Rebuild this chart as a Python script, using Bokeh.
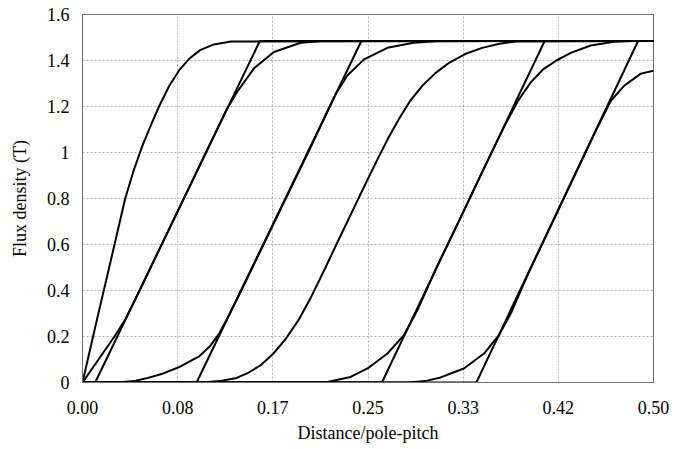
from bokeh.plotting import figure
from bokeh.models import Range1d, FixedTicker
from bokeh.embed import file_html
from bokeh.resources import INLINE

# Axis ticks and labels
x_ticks = [0.0, 0.0833333, 0.1666667, 0.25, 0.3333333, 0.4166667, 0.5]
x_tick_labels = ["0.00", "0.08", "0.17", "0.25", "0.33", "0.42", "0.50"]
y_ticks = [0.0, 0.2, 0.4, 0.6, 0.8, 1.0, 1.2, 1.4, 1.6]
y_tick_labels = ["0", "0.2", "0.4", "0.6", "0.8", "1", "1.2", "1.4", "1.6"]

# Idealised linear flux-density ramps (start, saturation, end)
ramp_a_x = [0.0, 0.0111, 0.1553, 0.5]
ramp_a_y = [0.0, 0.0, 1.485, 1.485]
ramp_b_x = [0.0, 0.0999, 0.2442, 0.5]
ramp_b_y = [0.0, 0.0, 1.485, 1.485]
ramp_c_x = [0.0, 0.2622, 0.4047, 0.5]
ramp_c_y = [0.0, 0.0, 1.485, 1.485]
ramp_d_x = [0.0, 0.3449, 0.4865, 0.5]
ramp_d_y = [0.0, 0.0, 1.485, 1.485]

# Computed flux-density distributions
c0_x = [0.0, 0.0125, 0.0228, 0.0374, 0.045, 0.0525, 0.060, 0.067, 0.076, 0.085,
        0.094, 0.103, 0.115, 0.130, 0.5]
c0_y = [0.0, 0.27, 0.488, 0.80, 0.925, 1.03, 1.12, 1.20, 1.29, 1.36,
        1.41, 1.445, 1.47, 1.483, 1.485]

c1_x = [0.0, 0.014, 0.028, 0.037, 0.05, 0.07, 0.09, 0.11, 0.126, 0.1355,
        0.150, 0.1676, 0.191, 0.21, 0.5]
c1_y = [0.0, 0.10, 0.20, 0.27, 0.40, 0.607, 0.813, 1.02, 1.185, 1.264,
        1.365, 1.437, 1.477, 1.485, 1.485]

c2_x = [0.0, 0.03, 0.045, 0.055, 0.07, 0.085, 0.1025, 0.112, 0.120, 0.128, 0.14,
        0.16, 0.18, 0.20, 0.2217, 0.2319, 0.2465, 0.267, 0.290, 0.31, 0.5]
c2_y = [0.0, 0.0, 0.006, 0.017, 0.038, 0.068, 0.115, 0.16, 0.215, 0.29, 0.41,
        0.615, 0.82, 1.025, 1.255, 1.335, 1.405, 1.455, 1.477, 1.484, 1.485]

c3_x = [0.0, 0.105, 0.12, 0.135, 0.145, 0.156, 0.167, 0.178, 0.189, 0.200,
        0.2128, 0.2223, 0.232, 0.2455, 0.2593, 0.268, 0.277, 0.287, 0.2975,
        0.309, 0.321, 0.335, 0.350, 0.365, 0.380, 0.5]
c3_y = [0.0, 0.0, 0.006, 0.02, 0.042, 0.075, 0.125, 0.19, 0.27, 0.37,
        0.50, 0.60, 0.70, 0.84, 0.98, 1.065, 1.145, 1.225, 1.29,
        1.345, 1.39, 1.428, 1.455, 1.473, 1.483, 1.485]

c4_x = [0.0, 0.20, 0.2144, 0.2348, 0.2508, 0.267, 0.2815, 0.2932, 0.31, 0.33,
        0.35, 0.37, 0.3814, 0.3925, 0.403, 0.415, 0.4275, 0.445, 0.465, 0.48, 0.5]
c4_y = [0.0, 0.0, 0.002, 0.024, 0.065, 0.126, 0.206, 0.314, 0.50, 0.705,
        0.915, 1.12, 1.225, 1.305, 1.36, 1.40, 1.433, 1.465, 1.481, 1.485, 1.485]

c5_x = [0.0, 0.285, 0.300, 0.3137, 0.3224, 0.334, 0.3516, 0.3647, 0.375, 0.39,
        0.41, 0.43, 0.45, 0.4626, 0.4743, 0.4889, 0.5]
c5_y = [0.0, 0.0, 0.006, 0.022, 0.039, 0.061, 0.126, 0.206, 0.30, 0.47,
        0.68, 0.89, 1.10, 1.225, 1.29, 1.343, 1.355]

FONT = "Liberation Serif"

p = figure(width=680, height=449, output_backend="svg", toolbar_location=None,
           x_range=Range1d(0, 0.5), y_range=Range1d(0, 1.6),
           min_border_left=82, min_border_right=27,
           min_border_top=14, min_border_bottom=67)
p.background_fill_color = "white"
p.border_fill_color = "white"
p.outline_line_color = "#6e6e6e"
p.outline_line_width = 1

series = [
    (ramp_a_x, ramp_a_y), (ramp_b_x, ramp_b_y), (ramp_c_x, ramp_c_y), (ramp_d_x, ramp_d_y),
    (c0_x, c0_y), (c1_x, c1_y), (c2_x, c2_y), (c3_x, c3_y), (c4_x, c4_y), (c5_x, c5_y),
]
for xs, ys in series:
    p.line(xs, ys, line_color="black", line_width=2, line_join="round")

# Axes
p.xaxis.ticker = FixedTicker(ticks=x_ticks)
p.yaxis.ticker = FixedTicker(ticks=y_ticks)
p.xaxis.major_label_overrides = {t: l for t, l in zip(x_ticks, x_tick_labels)}
p.yaxis.major_label_overrides = {t: l for t, l in zip(y_ticks, y_tick_labels)}

for ax in (p.xaxis[0], p.yaxis[0]):
    ax.major_tick_out = 0
    ax.major_tick_in = 0
    ax.minor_tick_out = 0
    ax.minor_tick_in = 0
    ax.axis_line_color = "#6e6e6e"
    ax.major_label_text_font = FONT
    ax.major_label_text_font_size = "18px"
    ax.major_label_text_color = "black"
    ax.axis_label_text_font = FONT
    ax.axis_label_text_font_size = "18px"
    ax.axis_label_text_font_style = "normal"
    ax.axis_label_text_color = "black"

p.xaxis.axis_label = "Distance/pole-pitch"
p.yaxis.axis_label = "Flux density (T)"
p.xaxis.major_label_standoff = 18
p.xaxis.axis_label_standoff = 6
p.yaxis.major_label_standoff = 13
p.yaxis.axis_label_standoff = 14

# Dotted grid
for g in (p.xgrid[0], p.ygrid[0]):
    g.grid_line_color = "#b0b0b0"
    g.grid_line_dash = "2 2"
    g.grid_line_width = 1

open("out.html", "w").write(file_html(p, INLINE))
